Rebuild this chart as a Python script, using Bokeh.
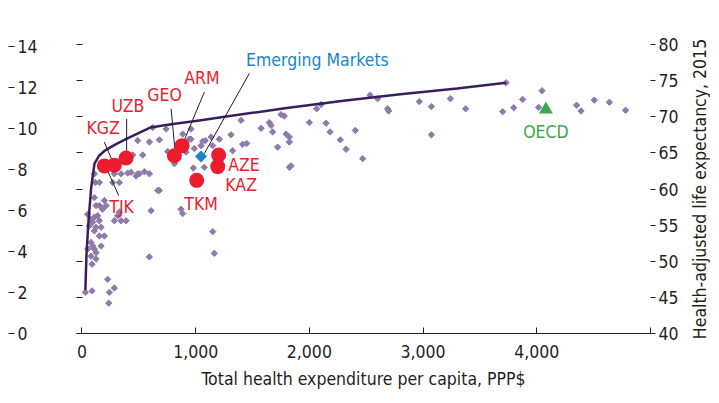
import math
from bokeh.plotting import figure
from bokeh.models import Range1d, LinearAxis, FixedTicker, NumeralTickFormatter, CustomLabelingPolicy
from bokeh.layouts import row
from bokeh.embed import file_html
from bokeh.resources import INLINE
from bokeh.core.properties import value

# ---------------- data ----------------
# frontier curve (health expenditure per capita, HALE)
curve_x = [30, 40, 55, 80, 110, 150, 200, 300, 400, 600, 800, 1000, 1300, 1800, 2300, 2800, 3300, 3730]
curve_y = [46, 51, 55, 60, 63.5, 64.6, 65.3, 66.2, 67.0, 68.5, 69.0, 69.4, 70.1, 71.2, 72.2, 73.1, 73.9, 74.7]

# all countries (grey dots)
pts_x = [30, 89, 235, 241, 285, 226,
         89, 124, 80, 124, 50, 109, 94, 168, 80,
         153, 197, 109, 124, 168, 65, 94, 153, 80,
         109, 138, 50, 285, 344, 388, 314,
         182, 124, 153, 212, 197, 109,
         118, 153, 270, 329, 109, 285, 344, 432, 490, 505, 593,
         329, 593, 666, 608, 681, 871, 886, 1150, 1164,
         402, 476, 549, 446, 534, 754, 490, 593, 681, 622, 740, 959, 959, 1062, 1135,
         813, 886, 944, 988, 915, 980, 1076, 1047, 1085, 1150,
         1208, 1311, 1325, 1413, 1449, 1399, 1575, 1648, 1663, 1677, 1751, 1780, 1795, 1824, 1721, 1824, 1824, 1839,
         2000, 2064, 2103, 2147, 2182, 2272, 2323, 2404, 2469, 2534, 2600, 2688, 2697, 2967, 3073, 3073,
         3240, 3374, 3700, 3730, 3797, 3876, 4016, 4046, 4350, 4389, 4506, 4638, 4781]
pts_y = [45.7, 45.9, 44.2, 45.7, 46.3, 47.5,
         49.6, 50.3, 50.7, 51.2, 51.7, 51.7, 52.1, 52.1, 52.6,
         53.5, 53.5, 54.2, 54.7, 54.7, 54.9, 55.4, 55.6, 55.8,
         56.1, 56.3, 56.5, 55.6, 55.6, 55.6, 56.3,
         57.2, 57.7, 57.7, 57.7, 58.4, 58.8,
         60.9, 60.9, 60.9, 60.9, 62.1, 62.1, 62.1, 62.3, 62.1, 62.1, 62.1,
         56.8, 50.6, 59.8, 57.0, 59.8, 57.2, 56.6, 54.1, 51.1,
         62.2, 61.8, 62.4, 64.7, 64.7, 65.2, 66.7, 66.5, 66.8, 68.5, 68.3, 68.3, 66.9, 66.6, 67.2,
         63.5, 67.6, 66.9, 65.6, 65.1, 62.9, 63.0, 66.0, 66.7, 66.0,
         66.9, 67.5, 65.3, 66.2, 66.3, 69.5, 68.4, 69.2, 68.8, 67.9, 70.3, 70.1, 67.6, 67.2, 65.8, 66.5, 63.0, 63.2,
         69.2, 71.1, 71.7, 69.1, 67.9, 66.8, 65.5, 68.1, 64.2, 73.0, 72.5, 71.1, 70.8, 72.1, 71.4, 67.5,
         72.5, 71.1, 70.7, 74.7, 71.25, 72.4, 71.3, 73.6, 71.6, 70.8, 72.3, 72.0, 70.9]

# highlighted countries
cc_names = ["KGZ", "TJK", "UZB", "GEO", "ARM", "AZE", "KAZ", "TKM"]
cc_x = [285, 197, 388, 813, 880, 1202, 1194, 1009]
cc_y = [63.3, 63.2, 64.3, 64.6, 66.0, 64.7, 63.1, 61.2]

em_name = "Emerging Markets"
em_x = [1047]
em_y = [64.5]
oecd_name = "OECD"
oecd_x = [4080]
oecd_y = [71.0]

x_ticks = [0, 1000, 2000, 3000, 4000, 5000]
right_ticks = [40, 45, 50, 55, 60, 65, 70, 75, 80]
left_ticks = [0, 2, 4, 6, 8, 10, 12, 14]

x_title = "Total health expenditure per capita, PPP$"
y_title = "Health-adjusted life expectancy, 2015"

# annotation placement (data units)
lab_x = [39, 241, 259, 575, 900, 1287, 1261, 900]
lab_y = [68.5, 57.5, 71.5, 73.0, 75.3, 63.3, 60.6, 57.9]
lead_x0 = [197, 212, 393, 784, 1076, 1472]
lead_y0 = [66.5, 63.0, 69.7, 71.1, 73.4, 76.0]
lead_x1 = [285, 323, 393, 821, 886, 1076]
lead_y1 = [63.2, 59.1, 64.4, 64.9, 66.25, 64.9]
em_lab = (1443, 77.8)
oecd_lab = (4080, 67.9)

# ---------------- styling ----------------
FONT = "DejaVu Sans Condensed"
FS = "17.5px"
INK = "#231f20"
TOP, BOT, FH = 44, 60, 289

hide_all = CustomLabelingPolicy(code="""
for (let i = 0; i < indices.size; i++) { indices.unset(i) }
return indices
""")
hide_last = CustomLabelingPolicy(code="""
indices.unset(indices.size - 1)
return indices
""")

# left panel: 0-14 axis only
pa = figure(frame_width=1, frame_height=FH, x_range=Range1d(0, 1), y_range=Range1d(0, 14.1),
            toolbar_location=None, output_backend="svg", x_axis_location=None,
            y_axis_location="right", min_border_left=7, min_border_right=68,
            min_border_top=TOP, min_border_bottom=BOT)
pa.outline_line_color = None
pa.grid.visible = False
ya = pa.yaxis[0]
ya.ticker = FixedTicker(ticks=left_ticks)
ya.major_tick_out = 6
ya.major_tick_in = 0
ya.axis_line_color = None
ya.minor_tick_line_color = None
ya.major_tick_line_color = INK
ya.major_label_standoff = 3
ya.major_label_text_font = FONT
ya.major_label_text_font_size = FS
ya.major_label_text_color = INK

# main panel
p = figure(frame_width=574, frame_height=FH, x_range=Range1d(-48, 5000), y_range=Range1d(40, 80),
           toolbar_location=None, output_backend="svg", y_axis_location="right",
           min_border_left=0, min_border_right=30, min_border_top=TOP, min_border_bottom=BOT)
p.outline_line_color = None
p.grid.visible = False

xa = p.xaxis[0]
xa.ticker = FixedTicker(ticks=x_ticks)
xa.formatter = NumeralTickFormatter(format="0,0")
xa.major_label_policy = hide_last
xa.major_tick_in = 6
xa.major_tick_out = 0
xa.minor_tick_line_color = None
xa.axis_line_color = INK
xa.major_tick_line_color = INK
xa.major_label_standoff = 11
xa.major_label_text_font = FONT
xa.major_label_text_font_size = FS
xa.major_label_text_color = INK
xa.axis_label = x_title
xa.axis_label_text_font = FONT
xa.axis_label_text_font_size = FS
xa.axis_label_text_font_style = "normal"
xa.axis_label_text_color = INK
xa.axis_label_standoff = 8

yr = p.yaxis[0]
yr.ticker = FixedTicker(ticks=right_ticks)
yr.major_tick_out = 5
yr.major_tick_in = 0
yr.axis_line_color = None
yr.minor_tick_line_color = None
yr.major_tick_line_color = INK
yr.major_label_standoff = 3
yr.major_label_text_font = FONT
yr.major_label_text_font_size = FS
yr.major_label_text_color = INK

inner = LinearAxis(ticker=FixedTicker(ticks=right_ticks), major_tick_in=6, major_tick_out=0,
                   axis_line_color=None, minor_tick_line_color=None, major_tick_line_color=INK,
                   major_label_text_font_size="0px", major_label_standoff=0,
                   major_label_policy=hide_all)
p.add_layout(inner, "left")

# right strip carrying the vertical title (reads bottom to top)
pc = figure(frame_width=1, frame_height=FH, x_range=Range1d(0, 1), y_range=p.y_range,
            toolbar_location=None, output_backend="svg", x_axis_location=None,
            y_axis_location="left", min_border_left=28, min_border_right=0,
            min_border_top=TOP, min_border_bottom=BOT)
pc.outline_line_color = None
pc.grid.visible = False
yc = pc.yaxis[0]
yc.ticker = FixedTicker(ticks=[])
yc.axis_line_color = None
yc.major_tick_out = 0
yc.major_tick_in = 0
yc.minor_tick_line_color = None
yc.major_label_standoff = 0
yc.axis_label = y_title
yc.axis_label_text_font = FONT
yc.axis_label_text_font_size = FS
yc.axis_label_text_font_style = "normal"
yc.axis_label_text_color = INK
yc.axis_label_standoff = 0

# glyphs
p.scatter(pts_x, pts_y, marker="square", angle=math.pi / 4, size=4.5,
          fill_color="#8e7bab", line_color="#8e7bab")
p.line(curve_x, curve_y, line_color="#3b1d5e", line_width=2.5)
p.segment(lead_x0, lead_y0, lead_x1, lead_y1, line_color="#231f20", line_width=1)
p.scatter(cc_x, cc_y, marker="circle", size=15, fill_color="#ec1c2e", line_color=None)
p.scatter(em_x, em_y, marker="square", angle=math.pi / 4, size=8.5,
          fill_color="#1a85c6", line_color=None)
p.scatter(oecd_x, oecd_y, marker="triangle", size=14, fill_color="#3aaa48", line_color=None)

p.text(lab_x, lab_y, text=cc_names, text_font=value(FONT), text_font_size=FS,
       text_color="#ec1c2e", text_baseline="middle", text_align="left")
p.text([em_lab[0]], [em_lab[1]], text=[em_name], text_font=value(FONT), text_font_size=FS,
       text_color="#1a85c6", text_baseline="middle", text_align="left")
p.text([oecd_lab[0]], [oecd_lab[1]], text=[oecd_name], text_font=value(FONT), text_font_size=FS,
       text_color="#3aaa48", text_baseline="middle", text_align="center")

layout = row(pa, p, pc)
open("out.html", "w").write(file_html(layout, INLINE))
